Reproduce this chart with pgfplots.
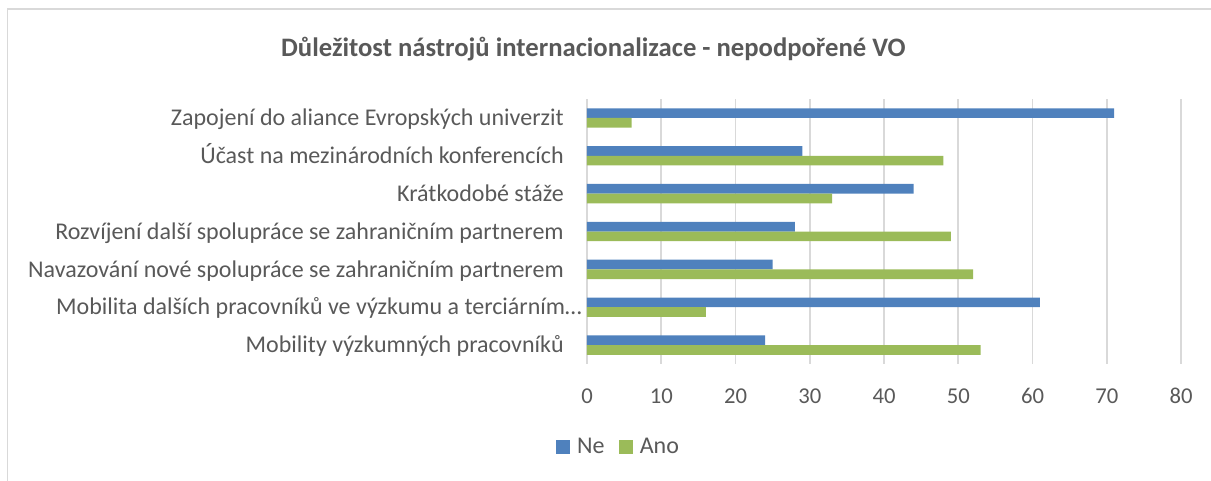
\documentclass[border=0pt]{standalone}
\usepackage{pgfplots}
\pgfplotsset{compat=1.18}
\usepackage{fontspec}
\setmainfont{Carlito}
\definecolor{neblue}{HTML}{4F81BD}
\definecolor{anogreen}{HTML}{9BBB59}
\definecolor{txtgray}{HTML}{595959}
\definecolor{gridgray}{HTML}{D9D9D9}

\begin{document}
\begin{tikzpicture}
\useasboundingbox (0,0) rectangle (908.25pt,360pt);
% chart frame (only top and left edges are visible in the reference)
\draw[gridgray, line width=1.4pt] (5.6pt,-5pt) -- (5.6pt,353pt) -- (915pt,353pt);
\node[font=\fontsize{20}{24}\selectfont\bfseries, text=txtgray, anchor=base]
    at (445pt,318pt) {Důležitost nástrojů internacionalizace - nepodpořené VO};
\begin{axis}[
    at={(440.25pt,87pt)}, anchor=south west,
    scale only axis,
    width=445.5pt, height=198.75pt,
    xbar,
    xmin=0, xmax=80,
    ymin=-0.5, ymax=6.5,
    y dir=reverse,
    bar width=0.256,
    xtick={0,10,...,80},
    ytick={0,...,6},
    yticklabels={
        Zapojení do aliance Evropských univerzit,
        Účast na mezinárodních konferencích,
        Krátkodobé stáže,
        Rozvíjení další spolupráce se zahraničním partnerem,
        Navazování nové spolupráce se zahraničním partnerem,
        {Mobilita dalších pracovníků ve výzkumu a terciárním…\hspace*{-13.5pt}},
        Mobility výzkumných pracovníků
    },
    xmajorgrids=true,
    grid style={gridgray, line width=1.3pt},
    axis line style={draw=none},
    major tick length=0pt,
    /pgf/number format/assume math mode=true,
    yticklabel style={font=\fontsize{18}{21}\selectfont, text=txtgray,
        anchor=base east, inner sep=0pt, xshift=-17.25pt, yshift=-5.8pt},
    xticklabel style={font=\fontsize{17}{20}\selectfont, text=txtgray,
        anchor=base, inner sep=0pt, yshift=-29.25pt},
    legend style={at={(0.0539,-0.313)}, anchor=center, draw=none,
        legend columns=2, font=\fontsize{18}{21}\selectfont, text=txtgray,
        /tikz/every even column/.append style={column sep=9pt}},
    legend image code/.code={\fill[#1] (0pt,-5.25pt) rectangle (10.5pt,5.25pt);
        \path (13.5pt,0pt);},
]
\addplot[fill=neblue, draw=none, bar shift=-0.128]
    coordinates {(71,0) (29,1) (44,2) (28,3) (25,4) (61,5) (24,6)};
\addlegendentry{Ne}
\addplot[fill=anogreen, draw=none, bar shift=0.128]
    coordinates {(6,0) (48,1) (33,2) (49,3) (52,4) (16,5) (53,6)};
\addlegendentry{Ano}
\end{axis}
\end{tikzpicture}
\end{document}
